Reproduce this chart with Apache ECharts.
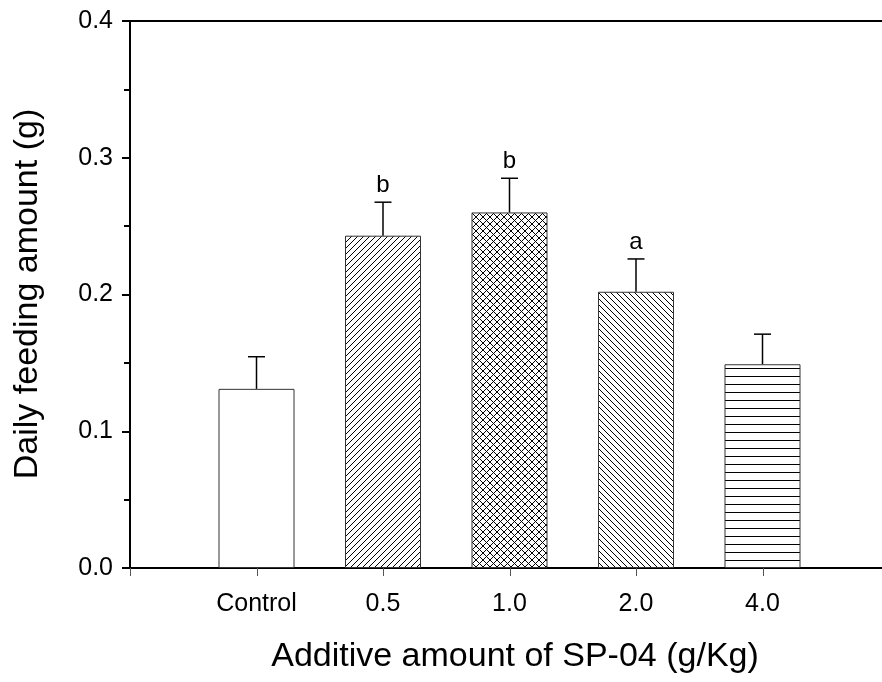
<!DOCTYPE html>
<html>
<head>
<meta charset="utf-8">
<title>Daily feeding amount</title>
<script src="https://cdn.jsdelivr.net/npm/echarts@6/dist/echarts.min.js"></script>
<style>
    html, body { margin: 0; padding: 0; background: #fff; overflow: hidden; }
    #chart { width: 882px; height: 682px; }
</style>
</head>
<body>
<div id="chart"></div>
<script>
//////////////////////////////////////////////////////////////////
// [ Data ]

var categories = ['Control', '0.5', '1.0', '2.0', '4.0'];
var feeding = [0.131, 0.243, 0.260, 0.202, 0.149];
var errors = [0.0235, 0.0245, 0.025, 0.024, 0.022];
var letters = ['', 'b', 'b', 'a', ''];
var patterns = ['none', 'slash', 'cross', 'backslash', 'horizontal'];
var yTicks = [0, 0.1, 0.2, 0.3, 0.4];
var xTickPos = [0, 1, 2, 3, 4, 5];

var FONT = 'Arial, "Liberation Sans", Helvetica, sans-serif';

//////////////////////////////////////////////////////////////////
// [ Hatch patterns ]

function makeHatch(kind) {
    if (kind === 'none') return '#fff';
    var c = document.createElement('canvas');
    var s = kind === 'horizontal' ? 8 : (kind === 'cross' ? 7 : 6);
    c.width = s;
    c.height = s;
    var ctx = c.getContext('2d');
    ctx.fillStyle = '#fff';
    ctx.fillRect(0, 0, s, s);
    ctx.strokeStyle = '#000';
    ctx.lineWidth = 1;
    ctx.beginPath();
    if (kind === 'slash' || kind === 'cross') {
        ctx.moveTo(-1, s + 1); ctx.lineTo(s + 1, -1);
        ctx.moveTo(-1, 1); ctx.lineTo(1, -1);
        ctx.moveTo(s - 1, s + 1); ctx.lineTo(s + 1, s - 1);
    }
    if (kind === 'backslash' || kind === 'cross') {
        ctx.moveTo(-1, -1); ctx.lineTo(s + 1, s + 1);
        ctx.moveTo(s - 1, -1); ctx.lineTo(s + 1, 1);
        ctx.moveTo(-1, s - 1); ctx.lineTo(1, s + 1);
    }
    if (kind === 'horizontal') {
        ctx.moveTo(0, 0.5); ctx.lineTo(s, 0.5);
    }
    ctx.stroke();
    return { image: c, repeat: 'repeat' };
}

var barData = feeding.map(function (v, i) {
    return {
        value: [i + 1, v],
        itemStyle: { color: makeHatch(patterns[i]) }
    };
});

var errData = feeding.map(function (v, i) {
    return [i + 1, v, v + errors[i]];
});

var tickData = xTickPos.map(function (v) {
    return [v, 0];
});

//////////////////////////////////////////////////////////////////
// [ Chart ]

var chart = echarts.init(document.getElementById('chart'), null, { renderer: 'canvas' });

var option = {
    animation: false,
    backgroundColor: '#fff',
    // the frame runs past the right edge of the picture; border gives the top line
    grid: {
        left: 130, top: 21, right: -7, bottom: 114,
        outerBoundsMode: 'none', containLabel: false,
        show: true, borderColor: '#000', borderWidth: 2, backgroundColor: 'transparent'
    },
    xAxis: {
        type: 'value',
        min: 0,
        max: 6,
        interval: 1,
        splitLine: { show: false },
        axisLine: { onZero: false, lineStyle: { color: '#000', width: 2 } },
        axisTick: { show: false },
        axisLabel: {
            margin: 24,
            color: '#000',
            fontFamily: FONT,
            fontSize: 25,
            formatter: function (v) {
                var k = Math.round(v);
                return (k >= 1 && k <= categories.length) ? categories[k - 1] : '';
            }
        }
    },
    yAxis: {
        type: 'value',
        min: 0,
        max: 0.4,
        interval: 0.1,
        splitLine: { show: false },
        axisLine: { lineStyle: { color: '#000', width: 2 } },
        axisTick: { length: 8, lineStyle: { color: '#000', width: 2 } },
        minorTick: { show: true, splitNumber: 2, length: 6, lineStyle: { color: '#000', width: 2 } },
        axisLabel: {
            margin: 17,
            color: '#000',
            fontFamily: FONT,
            fontSize: 25,
            formatter: function (v) {
                return yTicks.indexOf(Math.round(v * 10) / 10) >= 0 ? v.toFixed(1) : '';
            }
        }
    },
    graphic: [
        {
            type: 'text',
            x: 515,
            y: 657,
            style: {
                text: 'Additive amount of SP-04 (g/Kg)',
                fontFamily: FONT,
                fontSize: 34,
                fill: '#000',
                align: 'center',
                verticalAlign: 'middle'
            }
        },
        {
            type: 'text',
            x: 28,
            y: 294,
            rotation: Math.PI / 2,
            style: {
                text: 'Daily feeding amount (g)',
                fontFamily: FONT,
                fontSize: 34,
                fill: '#000',
                align: 'center',
                verticalAlign: 'middle'
            }
        }
    ],
    series: [
        {
            type: 'bar',
            data: barData,
            barWidth: 76,
            itemStyle: { borderColor: '#333', borderWidth: 1 }
        },
        {
            type: 'custom',
            data: errData,
            z: 5,
            renderItem: function (params, api) {
                var top = api.coord([api.value(0), api.value(2)]);
                var base = api.coord([api.value(0), api.value(1)]);
                var half = 8.5;
                var children = [
                    {
                        type: 'line',
                        shape: { x1: base[0], y1: base[1], x2: top[0], y2: top[1] },
                        style: { stroke: '#000', lineWidth: 1.5 }
                    },
                    {
                        type: 'line',
                        shape: { x1: top[0] - half, y1: top[1], x2: top[0] + half, y2: top[1] },
                        style: { stroke: '#000', lineWidth: 1.5 }
                    }
                ];
                var letter = letters[params.dataIndex];
                if (letter) {
                    children.push({
                        type: 'text',
                        x: top[0],
                        y: top[1] - 5,
                        style: {
                            text: letter,
                            fontFamily: FONT,
                            fontSize: 24,
                            fill: '#000',
                            align: 'center',
                            verticalAlign: 'bottom'
                        }
                    });
                }
                return { type: 'group', children: children };
            }
        },
        {
            // x-axis ticks (only at the category positions)
            type: 'custom',
            data: tickData,
            z: 6,
            silent: true,
            renderItem: function (params, api) {
                var p = api.coord([api.value(0), 0]);
                var x = Math.round(p[0]) + 0.5;
                return {
                    type: 'line',
                    shape: { x1: x, y1: p[1], x2: x, y2: p[1] + 8 },
                    style: { stroke: '#555', lineWidth: 1 }
                };
            }
        }
    ]
};

chart.setOption(option);

window.addEventListener('resize', function () {
    chart.resize();
});
</script>
</body>
</html>
